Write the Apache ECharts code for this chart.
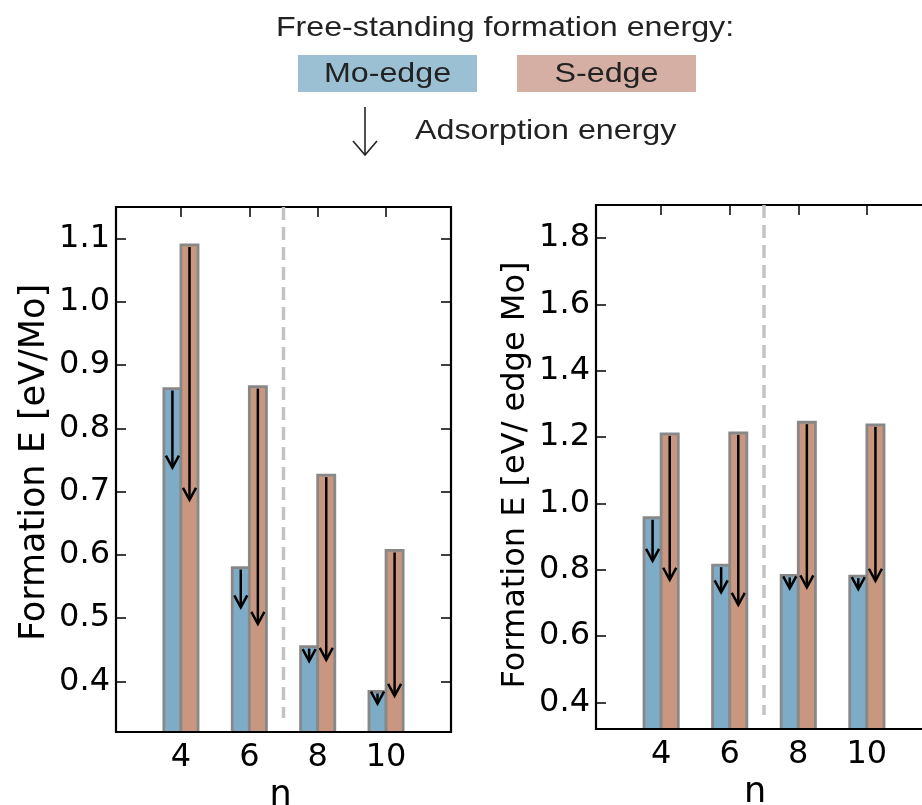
<!DOCTYPE html>
<html>
<head>
<meta charset="utf-8">
<script src="https://cdn.jsdelivr.net/npm/echarts@6/dist/echarts.min.js"></script>
<style>
html,body{margin:0;padding:0;background:#fff;}
#chart{width:922px;height:805px;}
</style>
</head>
<body>
<div id="chart"></div>
<script>
// ---- data ----
const nValues = [4, 6, 8, 10];
const xTickValues = [4, 6, 8, 10];
const dividerN = 7;

// Left panel: formation energy per Mo
const moEdgeFormationLeft = [0.863, 0.580, 0.455, 0.384];
const moEdgeAdsorbedLeft  = [0.738, 0.517, 0.432, 0.365];
const sEdgeFormationLeft  = [1.090, 0.866, 0.726, 0.607];
const sEdgeAdsorbedLeft   = [0.687, 0.491, 0.434, 0.377];
const leftYTicks = [0.4, 0.5, 0.6, 0.7, 0.8, 0.9, 1.0, 1.1];

// Right panel: formation energy per edge Mo
const moEdgeFormationRight = [0.957, 0.814, 0.783, 0.781];
const moEdgeAdsorbedRight  = [0.827, 0.732, 0.744, 0.742];
const sEdgeFormationRight  = [1.210, 1.213, 1.245, 1.237];
const sEdgeAdsorbedRight   = [0.770, 0.694, 0.747, 0.767];
const rightYTicks = [0.4, 0.6, 0.8, 1.0, 1.2, 1.4, 1.6, 1.8];

const legendTitle = 'Free-standing formation energy:';
const legendMo = 'Mo-edge';
const legendS = 'S-edge';
const legendArrow = 'Adsorption energy';

// ---- styles ----
const BLUE = '#7eacc6';
const ORANGE = '#c9977f';
const EDGE = '#888888';
const TICK_FONT = 'DejaVu Sans';
const X_MIN = 2.1, X_MAX = 11.9;
const panels = [
  {ymin: 0.32, ymax: 1.15, ticks: leftYTicks, name: 'Formation E [eV/Mo]', nameSize: 35,
   mo: moEdgeFormationLeft, moAds: moEdgeAdsorbedLeft, s: sEdgeFormationLeft, sAds: sEdgeAdsorbedLeft,
   grid: {left: 116, top: 207, width: 335, height: 525}, xNamePad: [0, 6, 0, 0], yNamePad: [0, 0, 0, 14]},
  {ymin: 0.32, ymax: 1.90, ticks: rightYTicks, name: 'Formation E [eV/ edge Mo]', nameSize: 32,
   mo: moEdgeFormationRight, moAds: moEdgeAdsorbedRight, s: sEdgeFormationRight, sAds: sEdgeAdsorbedRight,
   grid: {left: 596, top: 205, width: 336, height: 524}, xNamePad: [0, 18, 0, 0], yNamePad: [0, 16, 0, 0]}
];

const grids = [], xAxes = [], yAxes = [], series = [];

panels.forEach((p, i) => {
  grids.push(Object.assign({show: true, borderColor: '#000', borderWidth: 2.2, backgroundColor: 'transparent',
    containLabel: false, outerBoundsMode: 'none'}, p.grid));
  const tickStyle = {show: true, inside: true, length: 10, lineStyle: {color: '#000', width: 1.5}};
  // bottom x
  xAxes.push({
    gridIndex: i, type: 'value', min: X_MIN, max: X_MAX, position: 'bottom',
    axisLine: {show: false}, splitLine: {show: false},
    axisTick: Object.assign({customValues: xTickValues}, tickStyle),
    axisLabel: {customValues: xTickValues, formatter: v => String(v), fontSize: 32, fontFamily: TICK_FONT, color: '#000', margin: 10},
    name: 'n', nameLocation: 'middle', nameGap: 46,
    nameTextStyle: {fontSize: 35, fontFamily: TICK_FONT, color: '#000', padding: p.xNamePad}
  });
  // top x (ticks only)
  xAxes.push({
    gridIndex: i, type: 'value', min: X_MIN, max: X_MAX, position: 'top',
    axisLine: {show: false}, splitLine: {show: false},
    axisTick: Object.assign({customValues: xTickValues}, tickStyle),
    axisLabel: {show: false}
  });
  // left y
  yAxes.push({
    gridIndex: i, type: 'value', min: p.ymin, max: p.ymax, position: 'left',
    axisLine: {show: false}, splitLine: {show: false},
    axisTick: Object.assign({customValues: p.ticks}, tickStyle),
    axisLabel: {customValues: p.ticks, formatter: v => v.toFixed(1), fontSize: 32, fontFamily: TICK_FONT, color: '#000', margin: 6},
    name: p.name, nameLocation: 'middle', nameGap: 64,
    nameTextStyle: {fontSize: p.nameSize, fontFamily: TICK_FONT, color: '#000', padding: p.yNamePad}
  });
  // right y (ticks only)
  yAxes.push({
    gridIndex: i, type: 'value', min: p.ymin, max: p.ymax, position: 'right',
    axisLine: {show: false}, splitLine: {show: false},
    axisTick: Object.assign({customValues: p.ticks}, tickStyle),
    axisLabel: {show: false}
  });
  const xi = i * 2, yi = i * 2;

  // divider dashed line at n = 7
  series.push({
    type: 'custom', xAxisIndex: xi, yAxisIndex: yi, silent: true, z: 1,
    data: [[dividerN]],
    renderItem: (params, api) => {
      const a = api.coord([api.value(0), p.ymax]);
      const b = api.coord([api.value(0), p.ymin]);
      return {type: 'line', shape: {x1: a[0], y1: a[1], x2: b[0], y2: b[1] - 14},
              style: {stroke: '#c3c3c3', lineWidth: 3.5, lineDash: [13, 7]}};
    }
  });

  // bars
  const barData = [];
  nValues.forEach((n, k) => {
    barData.push([n, p.mo[k], -1]);
    barData.push([n, p.s[k], 1]);
  });
  series.push({
    type: 'custom', xAxisIndex: xi, yAxisIndex: yi, silent: true, z: 2,
    data: barData,
    renderItem: (params, api) => {
      const n = api.value(0), v = api.value(1), side = api.value(2);
      const x0 = side < 0 ? n - 0.5 : n;
      const x1 = side < 0 ? n : n + 0.5;
      const tl = api.coord([x0, v]);
      const br = api.coord([x1, p.ymin]);
      const bottom = br[1] - 1;
      return {type: 'group', children: [
        {type: 'rect', shape: {x: tl[0], y: tl[1], width: br[0] - tl[0], height: bottom - tl[1]},
         style: {fill: side < 0 ? BLUE : ORANGE}},
        {type: 'polyline', shape: {points: [[tl[0], bottom], [tl[0], tl[1]], [br[0], tl[1]], [br[0], bottom]]},
         style: {stroke: EDGE, lineWidth: 2.8, fill: null}}
      ]};
    }
  });

  // adsorption arrows
  const arrowData = [];
  nValues.forEach((n, k) => {
    arrowData.push([n - 0.25, p.mo[k], p.moAds[k]]);
    arrowData.push([n + 0.25, p.s[k], p.sAds[k]]);
  });
  series.push({
    type: 'custom', xAxisIndex: xi, yAxisIndex: yi, silent: true, z: 3,
    data: arrowData,
    renderItem: (params, api) => {
      const x = api.value(0);
      const a = api.coord([x, api.value(1)]);
      const b = api.coord([x, api.value(2)]);
      const hw = 6.5, hh = 12;
      return {type: 'group', children: [
        {type: 'line', shape: {x1: a[0], y1: a[1] + 2, x2: b[0], y2: b[1] - 1.5}, style: {stroke: '#000', lineWidth: 2.5}},
        {type: 'polyline', shape: {points: [[b[0] - hw, b[1] - hh], [b[0], b[1]], [b[0] + hw, b[1] - hh]]},
         style: {stroke: '#000', lineWidth: 2.5, fill: null}}
      ]};
    }
  });
});

const LF = '28px "Liberation Sans"';
const SX = 1.15;
const graphic = [
  {type: 'text', x: 505, y: 28, scaleX: SX, style: {text: legendTitle, x: 0, y: 0, align: 'center', verticalAlign: 'middle', font: LF, fill: '#222'}},
  {type: 'rect', shape: {x: 298, y: 55, width: 179, height: 37}, style: {fill: '#9bc0d4'}},
  {type: 'rect', shape: {x: 517, y: 55, width: 179, height: 37}, style: {fill: '#d5aea4'}},
  {type: 'text', x: 387.5, y: 74, scaleX: SX, style: {text: legendMo, x: 0, y: 0, align: 'center', verticalAlign: 'middle', font: LF, fill: '#222'}},
  {type: 'text', x: 606.5, y: 74, scaleX: SX, style: {text: legendS, x: 0, y: 0, align: 'center', verticalAlign: 'middle', font: LF, fill: '#222'}},
  {type: 'line', shape: {x1: 365, y1: 107, x2: 365, y2: 155}, style: {stroke: '#222', lineWidth: 1.6}},
  {type: 'polyline', shape: {points: [[353, 141], [365, 155], [377, 141]]}, style: {stroke: '#222', lineWidth: 1.6, fill: null}},
  {type: 'text', x: 415, y: 131, scaleX: SX, style: {text: legendArrow, x: 0, y: 0, align: 'left', verticalAlign: 'middle', font: LF, fill: '#222'}}
];

const chart = echarts.init(document.getElementById('chart'), null, {renderer: 'canvas'});
chart.setOption({
  animation: false,
  backgroundColor: '#fff',
  grid: grids,
  xAxis: xAxes,
  yAxis: yAxes,
  series: series,
  graphic: graphic
});
</script>
</body>
</html>
